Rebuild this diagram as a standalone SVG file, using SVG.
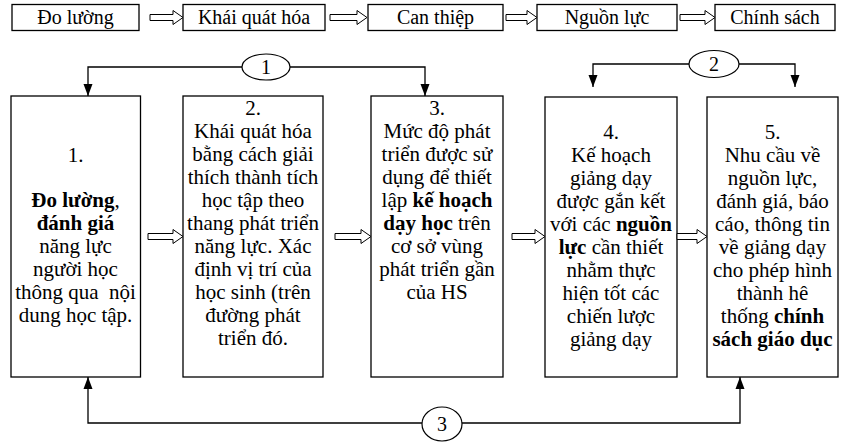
<svg xmlns="http://www.w3.org/2000/svg" width="859" height="445" viewBox="0 0 859 445">
<style>
.box{fill:#fff;stroke:#000;stroke-width:1.3}
.harrow{fill:#fff;stroke:#000;stroke-width:1}
.line{fill:none;stroke:#000;stroke-width:1.3}
.circ{fill:#fff;stroke:#000;stroke-width:1.2}
text{font-family:"Liberation Serif","Times New Roman",serif;fill:#000;text-anchor:middle}
.top{font-size:20px}
.body{font-size:21px}
.num{font-size:20px}
.b{font-weight:bold}
</style>
<defs>
<marker id="ah" markerUnits="userSpaceOnUse" markerWidth="12" markerHeight="12" viewBox="0 0 12 12" refX="12" refY="6" orient="auto">
<path d="M0,1.5 L12,6 L0,10.5 Z" fill="#000"/>
</marker>
</defs>

<g id="top-do-luong"><rect class="box" x="12" y="4.5" width="127" height="26"/><text class="top" x="75.5" y="24">Đo lường</text></g>
<g id="top-khai-quat"><rect class="box" x="183" y="4.5" width="142" height="26"/><text class="top" x="254" y="24">Khái quát hóa</text></g>
<g id="top-can-thiep"><rect class="box" x="368" y="4.5" width="135" height="26"/><text class="top" x="435.5" y="24">Can thiệp</text></g>
<g id="top-nguon-luc"><rect class="box" x="537" y="4.5" width="140" height="26"/><text class="top" x="607" y="24">Nguồn lực</text></g>
<g id="top-chinh-sach"><rect class="box" x="715" y="4.5" width="120" height="26"/><text class="top" x="775" y="24">Chính sách</text></g>

<g id="box1"><rect class="box" x="11" y="96" width="129.5" height="281"/>
<text class="body" x="75.5" y="162">1.</text>
<text class="body" x="75.5" y="207"><tspan class="b">Đo lường</tspan>,</text>
<text class="body b" x="75.5" y="230">đánh giá</text>
<text class="body" x="75.5" y="253">năng lực</text>
<text class="body" x="75.5" y="276">người học</text>
<text class="body" x="75.5" y="299" xml:space="preserve">thông qua  nội</text>
<text class="body" x="75.5" y="322">dung học tập.</text>
</g>

<g id="box2"><rect class="box" x="183" y="96" width="140" height="281"/>
<text class="body" x="253" y="115">2.</text>
<text class="body" x="253" y="138">Khái quát hóa</text>
<text class="body" x="253" y="161">bằng cách giải</text>
<text class="body" x="253" y="184">thích thành tích</text>
<text class="body" x="253" y="207">học tập theo</text>
<text class="body" x="253" y="230">thang phát triển</text>
<text class="body" x="253" y="253">năng lực. Xác</text>
<text class="body" x="253" y="276">định vị trí của</text>
<text class="body" x="253" y="299">học sinh (trên</text>
<text class="body" x="253" y="322">đường phát</text>
<text class="body" x="253" y="345">triển đó.</text>
</g>

<g id="box3"><rect class="box" x="371" y="96" width="132" height="281"/>
<text class="body" x="437" y="115">3.</text>
<text class="body" x="437" y="138">Mức độ phát</text>
<text class="body" x="437" y="161">triển được sử</text>
<text class="body" x="437" y="184">dụng để thiết</text>
<text class="body" x="437" y="207">lập <tspan class="b">kế hoạch</tspan></text>
<text class="body" x="437" y="230"><tspan class="b">dạy học</tspan> trên</text>
<text class="body" x="437" y="253">cơ sở vùng</text>
<text class="body" x="437" y="276">phát triển gần</text>
<text class="body" x="437" y="299">của HS</text>
</g>

<g id="box4"><rect class="box" x="545" y="97" width="132" height="280"/>
<text class="body" x="611" y="139">4.</text>
<text class="body" x="611" y="162">Kế hoạch</text>
<text class="body" x="611" y="185">giảng dạy</text>
<text class="body" x="611" y="208">được gắn kết</text>
<text class="body" x="611" y="231">với các <tspan class="b">nguồn</tspan></text>
<text class="body" x="611" y="254"><tspan class="b">lực</tspan> cần thiết</text>
<text class="body" x="611" y="277">nhằm thực</text>
<text class="body" x="611" y="300">hiện tốt các</text>
<text class="body" x="611" y="323">chiến lược</text>
<text class="body" x="611" y="346">giảng dạy</text>
</g>

<g id="box5"><rect class="box" x="707" y="97" width="131" height="280"/>
<text class="body" x="772.5" y="139">5.</text>
<text class="body" x="772.5" y="162">Nhu cầu về</text>
<text class="body" x="772.5" y="185">nguồn lực,</text>
<text class="body" x="772.5" y="208">đánh giá, báo</text>
<text class="body" x="772.5" y="231">cáo, thông tin</text>
<text class="body" x="772.5" y="254">về giảng dạy</text>
<text class="body" x="772.5" y="277">cho phép hình</text>
<text class="body" x="772.5" y="300">thành hê</text>
<text class="body" x="772.5" y="323">thống <tspan class="b">chính</tspan></text>
<text class="body b" x="772.5" y="346">sách giáo dục</text>
</g>

<g id="label1"><ellipse class="circ" cx="266" cy="67" rx="24" ry="13"/><text class="num" x="266" y="74">1</text></g>
<g id="label2"><ellipse class="circ" cx="714" cy="64" rx="25" ry="13.5"/><text class="num" x="714" y="71">2</text></g>
<g id="label3"><ellipse class="circ" cx="442" cy="424" rx="20" ry="17"/><text class="num" x="442" y="431">3</text></g>

<g id="connectors">
<path class="harrow" d="M150,14.5 H173 V10.5 L183,17.5 L173,24.5 V20.5 H150 Z"/>
<path class="harrow" d="M330,14.5 H357 V10.5 L367,17.5 L357,24.5 V20.5 H330 Z"/>
<path class="harrow" d="M506,14.5 H527 V10.5 L537,17.5 L527,24.5 V20.5 H506 Z"/>
<path class="harrow" d="M680,14.5 H705 V10.5 L715,17.5 L705,24.5 V20.5 H680 Z"/>

<path class="harrow" d="M148,233.5 H173 V229.5 L183,236.5 L173,243.5 V239.5 H148 Z"/>
<path class="harrow" d="M335,233.5 H361 V229.5 L371,236.5 L361,243.5 V239.5 H335 Z"/>
<path class="harrow" d="M512,233.5 H535 V229.5 L545,236.5 L535,243.5 V239.5 H512 Z"/>
<path class="harrow" d="M677,233.5 H697 V229.5 L707,236.5 L697,243.5 V239.5 H677 Z"/>

<path class="line" d="M242,67 H88 V96" marker-end="url(#ah)"/>
<path class="line" d="M290,67 H425 V96" marker-end="url(#ah)"/>
<path class="line" d="M689,64 H593 V87" marker-end="url(#ah)"/>
<path class="line" d="M739,64 H795 V87" marker-end="url(#ah)"/>
<path class="line" d="M422,423 H88 V377" marker-end="url(#ah)"/>
<path class="line" d="M462,423 H740 V377" marker-end="url(#ah)"/>
</g>
</svg>
